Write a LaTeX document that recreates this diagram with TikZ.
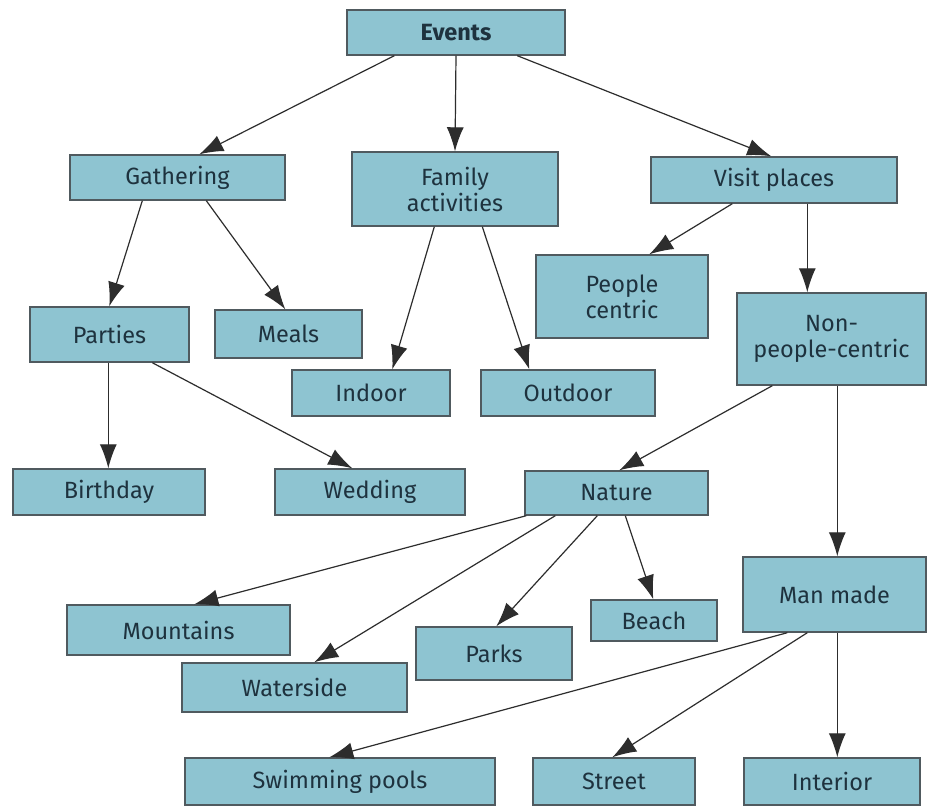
\documentclass[tikz,border=0pt]{standalone}
\usepackage{fontspec}
\setmainfont{Fira Sans}
\usetikzlibrary{arrows.meta}
\definecolor{boxfill}{RGB}{142,196,209}
\definecolor{boxline}{RGB}{80,90,95}
\definecolor{txt}{RGB}{30,50,62}
\definecolor{edge}{RGB}{45,45,45}
\begin{document}
\begin{tikzpicture}[x=1pt,y=-1pt,
  box/.style={draw=boxline,line width=1.4pt,fill=boxfill,text=txt,inner sep=0pt,
    font=\fontsize{23.5}{26}\selectfont,align=center},
  arr/.style={draw=edge,line width=1.2pt,arrows={-Latex[length=24pt,width=17pt]}}]
\useasboundingbox[fill=white] (0,0) rectangle (928,810);
\newcommand{\bx}[6]{\node[box,minimum width=#4pt,minimum height=#5pt] (#1) at (#2,#3) {#6};}
\bx{events}{456}{32.5}{218}{45}{\textbf{Events}}
\bx{gath}{177.5}{177.5}{215}{45}{Gathering}
\bx{fam}{455}{189}{206}{74}{Family\\activities}
\bx{visit}{774}{180}{246}{46}{Visit places}
\bx{people}{622}{296.5}{172}{83}{People\\centric}
\bx{non}{831.5}{339}{189}{92}{Non-\\people-centric}
\bx{parties}{109.5}{334.5}{159}{55}{Parties}
\bx{meals}{288.5}{334}{147}{48}{Meals}
\bx{indoor}{371}{393}{158}{46}{Indoor}
\bx{outdoor}{568}{393}{174}{46}{Outdoor}
\bx{birth}{109}{492}{192}{46}{Birthday}
\bx{wed}{370}{492}{190}{46}{Wedding}
\bx{nature}{616.5}{493}{183}{44}{Nature}
\bx{man}{834.5}{594.5}{183}{75}{Man made}
\bx{mount}{178.5}{630}{223}{50}{Mountains}
\bx{beach}{654}{620.5}{126}{41}{Beach}
\bx{parks}{494}{653.5}{156}{53}{Parks}
\bx{water}{294.5}{687.5}{225}{49}{Waterside}
\bx{swim}{340}{781.5}{310}{47}{Swimming pools}
\bx{street}{614}{781.5}{162}{47}{Street}
\bx{inter}{832}{781.5}{176}{47}{Interior}
\newcommand{\ed}[4]{\draw[arr] ([xshift=#2pt]#1.south west) -- ([xshift=#4pt]#3.north west);}
\ed{events}{48}{gath}{130}
\draw[arr] (events.south) -- (fam.north);
\ed{events}{171}{visit}{121}
\ed{gath}{73}{parties}{80}
\ed{gath}{137}{meals}{71}
\ed{fam}{83}{indoor}{101}
\ed{fam}{131}{outdoor}{49}
\ed{visit}{82}{people}{114}
\ed{visit}{157}{non}{71}
\ed{parties}{79}{birth}{96}
\ed{parties}{123}{wed}{78}
\ed{non}{36}{nature}{95}
\ed{non}{101}{man}{95}
\ed{nature}{2}{mount}{128}
\ed{nature}{31}{water}{133}
\ed{nature}{73}{parks}{81}
\ed{nature}{101}{beach}{63}
\ed{man}{45}{swim}{145}
\ed{man}{65}{street}{80}
\ed{man}{95}{inter}{94}
\end{tikzpicture}
\end{document}
